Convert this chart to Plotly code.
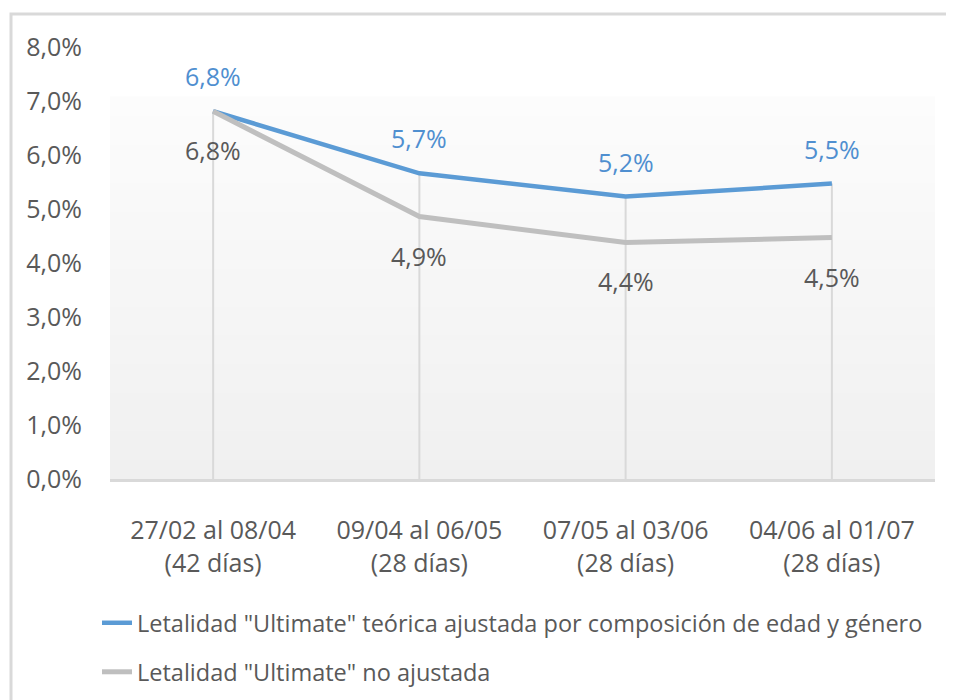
import plotly.graph_objects as go

categories = ["27/02 al 08/04<br>(42 días)", "09/04 al 06/05<br>(28 días)",
              "07/05 al 03/06<br>(28 días)", "04/06 al 01/07<br>(28 días)"]
series_names = ['Letalidad "Ultimate" teórica ajustada por composición de edad y género',
                'Letalidad "Ultimate" no ajustada']
ajustada = [6.81, 5.66, 5.23, 5.47]
no_ajustada = [6.81, 4.86, 4.38, 4.47]
y_ticks = [0, 1, 2, 3, 4, 5, 6, 7, 8]

BLUE = "#5b9bd5"
GRAY = "#bfbfbf"
TXT = "#595959"
FONT = "Open Sans"
FS = 25

def fmt(v):
    return f"{v:.1f}".replace(".", ",") + "%"

# page body has an 8px margin; figure is sized/positioned to compensate
OFF = 8
W, H = 954 - OFF, 700 - OFF
PL, PR, PT, PB = 110 - OFF, 935 - OFF, 47 - OFF, 479 - OFF  # plot area in figure px
PW, PH = PR - PL, PB - PT

def px_x(p):  # page pixel -> paper
    return (p - OFF - PL) / PW

def px_y(p):
    return (PB - (p - OFF)) / PH

fig = go.Figure()

# drop lines from highest point to axis
dx, dy = [], []
for c, a, b in zip(categories, ajustada, no_ajustada):
    dx += [c, c, None]
    dy += [0, max(a, b), None]
fig.add_trace(go.Scatter(x=dx, y=dy, mode="lines", line=dict(color="#d9d9d9", width=2),
                         showlegend=False, hoverinfo="skip"))

fig.add_trace(go.Scatter(x=categories, y=ajustada, mode="lines", name=series_names[0],
                         line=dict(color=BLUE, width=4.5), legend="legend"))
fig.add_trace(go.Scatter(x=categories, y=no_ajustada, mode="lines", name=series_names[1],
                         line=dict(color=GRAY, width=5), legend="legend2"))

for c, v in zip(categories, ajustada):
    fig.add_annotation(x=c, y=v, text=fmt(v), showarrow=False, yshift=35,
                       font=dict(family=FONT, size=FS, color="#4f8fd0"))
for c, v in zip(categories, no_ajustada):
    fig.add_annotation(x=c, y=v, text=fmt(v), showarrow=False, yshift=-39,
                       font=dict(family=FONT, size=FS, color=TXT))

# gradient plot background
n = 40
top = px_y(97)
c0 = (0xf0, 0xf0, 0xf0)
c1 = (0xfc, 0xfc, 0xfc)
for i in range(n):
    t = i / (n - 1)
    col = tuple(round(c0[k] + (c1[k] - c0[k]) * t) for k in range(3))
    fig.add_shape(type="rect", xref="x domain", yref="y domain",
                  x0=0, x1=1, y0=top * i / n, y1=top * (i + 1) / n + 0.002,
                  fillcolor="rgb(%d,%d,%d)" % col, line=dict(width=0), layer="below")

# outer border
fig.add_shape(type="rect", xref="paper", yref="paper",
              x0=px_x(11), x1=px_x(990), y0=px_y(740), y1=px_y(14),
              line=dict(color="#d9d9d9", width=3), fillcolor="rgba(0,0,0,0)", layer="below")

fig.update_layout(
    width=W, height=H,
    margin=dict(l=PL, r=W - PR, t=PT, b=H - PB, autoexpand=False),
    paper_bgcolor="white", plot_bgcolor="rgba(0,0,0,0)",
    font=dict(family=FONT, size=FS, color=TXT),
    xaxis=dict(type="category", range=[-0.5, 3.5], showgrid=False, zeroline=False,
               showline=True, linecolor="#d9d9d9", linewidth=3, ticks="", automargin=False,
               tickfont=dict(family=FONT, size=FS, color=TXT), ticklabelstandoff=27),
    yaxis=dict(range=[0, 8], tickvals=y_ticks, ticktext=[fmt(v) for v in y_ticks],
               showgrid=False, zeroline=False, showline=False, ticks="", automargin=False,
               tickfont=dict(family=FONT, size=FS, color=TXT), ticklabelstandoff=27),
    legend=dict(xref="container", yref="container", x=(97 - OFF) / W, y=1 - (623 - OFF) / H,
                xanchor="left", yanchor="middle", bgcolor="rgba(0,0,0,0)",
                font=dict(family=FONT, size=23.5, color=TXT)),
    legend2=dict(xref="container", yref="container", x=(97 - OFF) / W, y=1 - (672 - OFF) / H,
                 xanchor="left", yanchor="middle", bgcolor="rgba(0,0,0,0)",
                 font=dict(family=FONT, size=23.5, color=TXT)),
)

fig.write_html("out.html")
